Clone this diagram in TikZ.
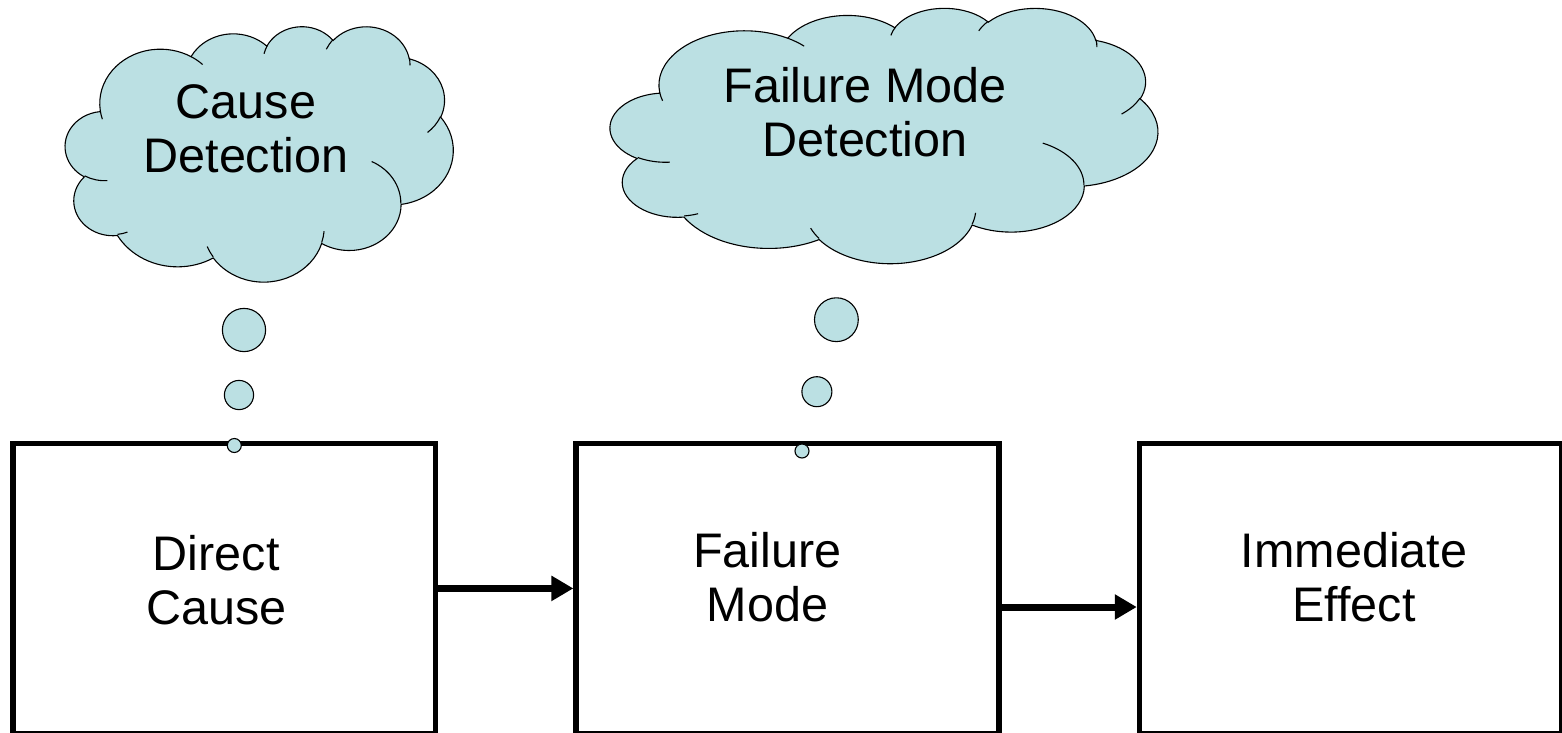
\documentclass[tikz,border=0pt]{standalone}
\usepackage{fontspec}
\setmainfont{Liberation Sans}
\usepackage{tikz}
\usetikzlibrary{arrows.meta}
\definecolor{bubblecolor}{RGB}{187,224,227}
\colorlet{linecolor}{black}

\tikzset{
  thoughtcloud/.pic={
    % outer puffs
    \filldraw[cloudline, fill=bubblecolor] (39.00,143.70)
      arc[start angle=-187.75, end angle=-59.63, x radius=67.53, y radius=91.90]
      arc[start angle=-152.03, end angle=-45.46, x radius=53.33, y radius=72.67]
      arc[start angle=-153.48, end angle=-37.33, x radius=43.65, y radius=59.45]
      arc[start angle=-139.71, end angle=-10.21, x radius=48.57, y radius=65.95]
      arc[start angle=-74.77, end angle=23.21, x radius=53.33, y radius=72.73]
      arc[start angle=-37.59, end angle=81.86, x radius=67.75, y radius=92.20]
      arc[start angle=0.46, end angle=121.97, x radius=57.85, y radius=78.67]
      arc[start angle=16.84, end angle=146.23, x radius=67.52, y radius=92.15]
      arc[start angle=59.00, end angle=150.21, x radius=77.20, y radius=105.43]
      arc[start angle=83.30, end angle=223.12, x radius=43.60, y radius=59.18]
      arc[start angle=120.35, end angle=264.11, x radius=43.45, y radius=59.45]
      -- cycle;
    % inner folds
    \draw[cloudline]
      (46.93,261.77) arc[start angle=85.55, delta angle=34.80, x radius=43.45, y radius=59.45]
      (69.28,348.99) arc[start angle=68.25, delta angle=15.05, x radius=43.60, y radius=59.18]
      (164.78,390.90) arc[start angle=146.23, delta angle=12.24, x radius=67.52, y radius=92.15]
      (288.27,347.51) arc[start angle=4.74, delta angle=12.10, x radius=67.52, y radius=92.15]
      (341.29,229.54) arc[start angle=-63.99, delta angle=64.45, x radius=57.85, y radius=78.67]
      (417.98,153.54) arc[start angle=23.21, delta angle=26.44, x radius=53.33, y radius=72.73]
      (383.24,54.26) arc[start angle=-10.21, delta angle=11.03, x radius=48.57, y radius=65.95]
      (290.78,39.52) arc[start angle=-156.28, delta angle=16.57, x radius=48.57, y radius=65.95]
      (221.41,47.20) arc[start angle=-167.73, delta angle=14.25, x radius=43.65, y radius=59.45]
      (140.00,51.92) arc[start angle=-59.63, delta angle=13.91, x radius=67.53, y radius=91.90]
      (41.27,157.89) arc[start angle=163.19, delta angle=9.07, x radius=67.53, y radius=91.90];
  }
}

\begin{document}
\begin{tikzpicture}[x=0.01cm, y=-0.01cm,
  blockbox/.style={draw=linecolor, line width=0.056cm, minimum width=4.224cm, minimum height=2.90cm, inner sep=0pt},
  flowarrow/.style={line width=0.07cm, -{Triangle[length=0.22cm, width=0.24cm]}},
  cloudline/.style={draw=linecolor, line width=0.011cm},
  bubble/.style={cloudline, fill=bubblecolor},
  label text/.style={align=center, inner sep=0pt}]
	\tikzstyle{every node}=[font=\fontsize{13.8}{15.4}\selectfont]
	\useasboundingbox (0,0) rectangle (1562,733);
	% basic structure
	\node (cause) [blockbox] at (224.25,588.4) {};
	\node (mode) [blockbox] at (787.5,588.4) {};
	\node (effect) [blockbox] at (1350.9,588.4) {};
	\node (causetext) [label text] at (216.3,580) {Direct\\Cause};
	\node (modetext) [label text] at (767.4,577.5) {Failure\\Mode};
	\node (effecttext) [label text] at (1354,577.5) {Immediate\\Effect};
	% Arrows
	\draw [flowarrow] (cause.east) -- (mode.west);
	\draw [flowarrow] ([yshift=-0.186cm]mode.east) -- ([yshift=-0.186cm]effect.west);
	% Clouds
	\begin{scope}[shift={(65.3,25.9)}, x=0.0089769cm, y=-0.0058981cm]
		\pic {thoughtcloud};
	\end{scope}
	\begin{scope}[shift={(610.3,7.5)}, x=0.012669cm, y=-0.0058981cm]
		\pic {thoughtcloud};
	\end{scope}
	\node (causedet) [label text] at (246,128.5) {Cause\\Detection};
	\node (modedet) [label text] at (865,112.5) {Failure Mode\\Detection};
	% Bubbles
	\draw [bubble] (244,330) circle [radius=21.6];
	\draw [bubble] (239,395) circle [radius=14.6];
	\draw [bubble] (234.3,445.5) circle [radius=7];
	\draw [bubble] (836.4,319.7) circle [radius=21.9];
	\draw [bubble] (816.9,391.7) circle [radius=15];
	\draw [bubble] (802,451) circle [radius=7];
\end{tikzpicture}
\end{document}
